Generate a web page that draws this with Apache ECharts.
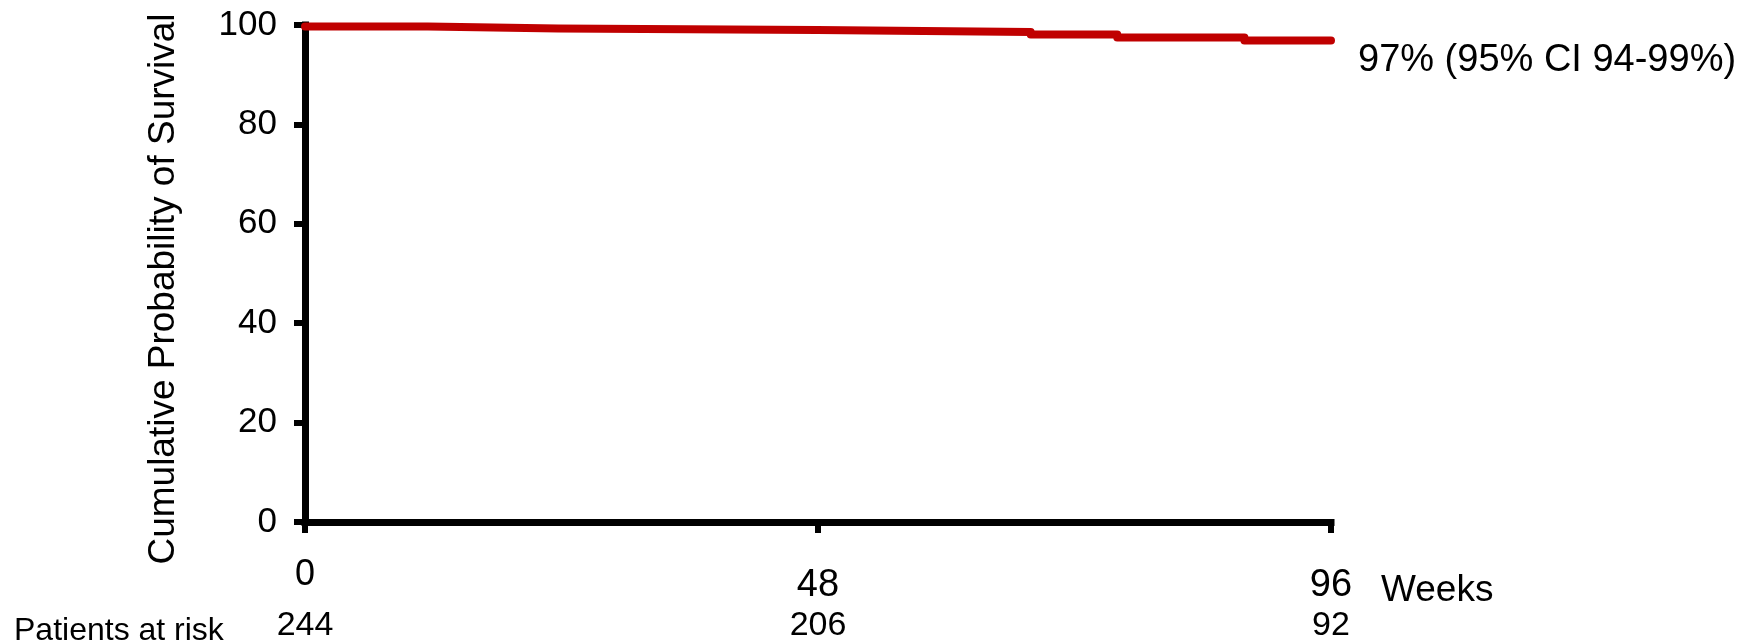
<!DOCTYPE html>
<html>
<head>
<meta charset="utf-8">
<script src="https://cdn.jsdelivr.net/npm/echarts@6/dist/echarts.min.js"></script>
<style>
  html, body { margin: 0; padding: 0; background: #fff; }
  #chart { width: 1739px; height: 643px; }
</style>
</head>
<body>
<div id="chart"></div>
<script>
// Kaplan-Meier step points (weeks, cumulative survival %)
const weeks = [0, 11.5, 23.7, 47.9, 67.9, 76.0, 87.9, 96];
const survival = [99.7, 99.3, 99.0, 98.6, 98.1, 97.5, 96.9, 96.9];
const xTicks = [0, 48, 96];
const riskCounts = [244, 206, 92];
const endText = '97% (95% CI 94-99%)';
const yTitle = 'Cumulative Probability of Survival';
const xTitle = 'Weeks';
const riskTitle = 'Patients at risk';

const FONT = "'Liberation Sans', Arial, Helvetica, sans-serif";
const RED = '#c00000';

const chart = echarts.init(document.getElementById('chart'), null, { renderer: 'canvas' });

const lineData = weeks.map((w, i) => [w, survival[i]]);

const option = {
  backgroundColor: '#ffffff',
  animation: false,
  textStyle: { fontFamily: FONT, color: '#000' },
  grid: { left: 305, right: 408, top: 25, bottom: 116, containLabel: false },
  xAxis: [
    {
      type: 'value',
      position: 'bottom',
      min: 0, max: 96, interval: 48,
      axisLine: { show: true, onZero: false, lineStyle: { color: '#000', width: 7, cap: 'square' } },
      axisTick: { show: true, inside: false, length: 11, lineStyle: { color: '#000', width: 6 } },
      splitLine: { show: false },
      axisLabel: {
        show: true,
        margin: 35,
        fontFamily: FONT,
        color: '#000',
        verticalAlign: 'top',
        formatter: v => (v === 0 ? '{z|0}' : '{n|' + v + '}'),
        rich: {
          z: { fontFamily: FONT, fontSize: 36, color: '#000' },
          n: { fontFamily: FONT, fontSize: 38, color: '#000', padding: [10, 0, 0, 0] }
        }
      }
    },
    {
      type: 'value',
      position: 'bottom',
      min: 0, max: 96, interval: 48,
      axisLine: { show: false },
      axisTick: { show: false },
      splitLine: { show: false },
      axisLabel: {
        show: true,
        margin: 87,
        fontFamily: FONT,
        fontSize: 34,
        color: '#000',
        verticalAlign: 'top',
        formatter: v => {
          const i = xTicks.indexOf(v);
          return i >= 0 ? String(riskCounts[i]) : '';
        }
      }
    }
  ],
  yAxis: {
    type: 'value',
    min: 0, max: 100, interval: 20,
    axisLine: { show: true, onZero: false, lineStyle: { color: '#000', width: 7, cap: 'square' } },
    axisTick: { show: true, inside: false, length: 11, lineStyle: { color: '#000', width: 6 } },
    splitLine: { show: false },
    axisLabel: { show: true, margin: 28, fontFamily: FONT, fontSize: 35, color: '#000' }
  },
  graphic: [
    {
      type: 'text',
      x: 164, y: 289,
      rotation: Math.PI / 2,
      style: {
        text: yTitle,
        fontFamily: FONT, fontSize: 37, fill: '#000',
        align: 'center', verticalAlign: 'middle'
      }
    },
    {
      type: 'text',
      x: 1381, y: 591,
      style: {
        text: xTitle,
        fontFamily: FONT, fontSize: 37, fill: '#000',
        align: 'left', verticalAlign: 'middle'
      }
    },
    {
      type: 'text',
      x: 14, y: 631,
      style: {
        text: riskTitle,
        fontFamily: FONT, fontSize: 32, fill: '#000',
        align: 'left', verticalAlign: 'middle'
      }
    }
  ],
  series: [
    {
      type: 'line',
      xAxisIndex: 0,
      data: lineData,
      step: 'end',
      symbol: 'none',
      lineStyle: { color: RED, width: 8, cap: 'round', join: 'round' },
      endLabel: {
        show: true,
        formatter: () => endText,
        distance: 27,
        offset: [0, 20],
        fontFamily: FONT,
        fontSize: 38,
        color: '#000'
      },
      z: 5
    }
  ]
};

chart.setOption(option);
</script>
</body>
</html>
